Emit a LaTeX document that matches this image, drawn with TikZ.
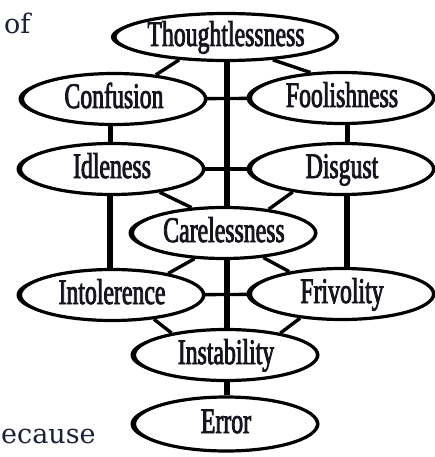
\documentclass[tikz,border=0pt]{standalone}
\usepackage{fontspec}
\setmainfont{Liberation Serif}
\newfontfamily\ellfont[FakeStretch=0.66,FakeBold=2.2]{Liberation Serif}
\newfontfamily\bodyfont{DejaVu Serif}
\usetikzlibrary{shapes.geometric}
\definecolor{ink}{HTML}{15151F}
\definecolor{navy}{HTML}{1B2138}
\tikzset{
  ell/.style={ellipse, draw=black, line width=3.2pt, fill=white,
    minimum width=183pt, minimum height=51pt, inner sep=0pt,
    text height=24pt, text depth=6pt,
    font=\ellfont\fontsize{36}{36}\selectfont, text=ink,
    preaction={fill=black, transform canvas={xshift=-4pt}},
    preaction={fill=black, transform canvas={xshift=2pt}}},
  link/.style={line width=3.4pt},
  side/.style={line width=5pt},
  trunk/.style={line width=6.5pt},
  bodytext/.style={anchor=base west, inner sep=0pt, text=navy,
    font=\bodyfont\fontsize{27}{27}\selectfont}
}
\begin{document}
\begin{tikzpicture}[x=1pt,y=-1pt]
\useasboundingbox (0,0) rectangle (435,457);
% surrounding text
\node[bodytext] (of) at (4,34) {of};
\node[bodytext] (because) at (1,443) {ecause};
% nodes
\node[ell, minimum height=47pt] (thought) at (226,37) {Thoughtlessness};
\node[ell] (conf) at (114,99) {Confusion};
\node[ell] (fool) at (342,98) {Foolishness};
\node[ell] (idle) at (112,169) {Idleness};
\node[ell] (disg) at (342,169) {Disgust};
\node[ell] (care) at (224,233) {Carelessness};
\node[ell] (intol) at (112,295) {Intolerence};
\node[ell] (friv) at (342,294) {Frivolity};
\node[ell] (inst) at (226,355) {Instability};
\node[ell, minimum height=54pt] (err) at (226,424) {Error};
% trunk
\draw[trunk] ([xshift=1pt]thought.south) -- ([xshift=3pt]care.north);
\draw[trunk] ([xshift=3pt]care.south) -- ([xshift=1pt]inst.north);
\draw[trunk] ([xshift=1pt]inst.south) -- ([xshift=1pt]err.north);
% horizontals
\draw[link] (conf) -- (fool);
\draw[link] (idle) -- (disg);
\draw[link] (intol) -- (friv);
% side verticals
\draw[side] ([xshift=-4pt]conf.south) -- ([xshift=-2pt]idle.north);
\draw[trunk] ([xshift=-2pt]idle.south) -- ([xshift=-2pt]intol.north);
\draw[side] ([xshift=5pt]fool.south) -- ([xshift=5pt]disg.north);
\draw[trunk] ([xshift=5pt]disg.south) -- ([xshift=5pt]friv.north);
% diagonals
\draw[link] (thought.206) -- (conf.30);
\draw[link] (thought.334) -- (fool.141);
\draw[link] (idle.334) -- (care.142);
\draw[link] (disg.205) -- (care.28);
\draw[link] (care.221) -- (intol.21);
\draw[link] (care.328) -- (friv.157);
\draw[link] (intol.330) -- (inst.158);
\draw[link] (friv.210) -- (inst.22);
\end{tikzpicture}
\end{document}
